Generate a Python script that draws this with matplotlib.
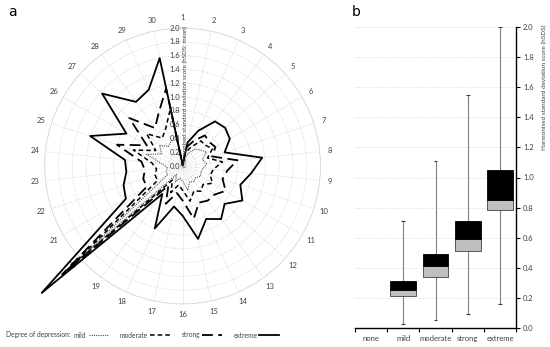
import numpy as np
import matplotlib
matplotlib.use("Agg")
import matplotlib.pyplot as plt
from matplotlib.lines import Line2D
from matplotlib.transforms import offset_copy

plt.rcParams['font.family'] = ['Lato', 'DejaVu Sans']

# --- panel a: radar, hSDS mean per item (1..30) ---
items = [str(i) for i in range(1, 31)]
mild = [0.02, 0.12, 0.20, 0.30, 0.35, 0.40, 0.30, 0.35, 0.30, 0.28,
        0.30, 0.25, 0.28, 0.25, 0.36, 0.22, 0.18, 0.25, 0.15, 2.05,
        0.25, 0.25, 0.22, 0.30, 0.55, 0.35, 0.45, 0.35, 0.40, 0.45]
moderate = [0.02, 0.20, 0.30, 0.45, 0.45, 0.50, 0.38, 0.58, 0.45, 0.42,
            0.50, 0.40, 0.45, 0.40, 0.52, 0.35, 0.28, 0.42, 0.25, 2.25,
            0.42, 0.42, 0.38, 0.45, 0.75, 0.45, 0.70, 0.50, 0.60, 0.85]
strong = [0.02, 0.28, 0.40, 0.55, 0.52, 0.55, 0.45, 0.80, 0.65, 0.61,
          0.72, 0.62, 0.62, 0.58, 0.78, 0.50, 0.40, 0.60, 0.35, 2.35,
          0.60, 0.60, 0.55, 0.60, 1.00, 0.60, 1.04, 0.68, 0.85, 1.15]
extreme = [0.02, 0.35, 0.56, 0.80, 0.83, 0.79, 0.64, 1.16, 1.00, 0.88,
           1.00, 0.82, 0.95, 0.84, 1.08, 0.72, 0.60, 0.99, 0.50, 2.75,
           0.95, 0.90, 0.82, 0.84, 1.41, 0.94, 1.57, 1.15, 1.21, 1.60]
r_ticks = [0.0, 0.2, 0.4, 0.6, 0.8, 1.0, 1.2, 1.4, 1.6, 1.8, 2.0]

# --- panel b: box summary per degree ---
degrees = ['none', 'mild', 'moderate', 'strong', 'extreme']
low = [np.nan, 0.03, 0.056, 0.096, 0.162]
q1 = [np.nan, 0.216, 0.34, 0.513, 0.782]
med = [np.nan, 0.256, 0.416, 0.589, 0.849]
q3 = [np.nan, 0.316, 0.496, 0.711, 1.051]
high = [np.nan, 0.71, 1.107, 1.547, 2.0]

txt = '#404040'
grid_c = '#d0d0d0'

fig = plt.figure(figsize=(5.5, 3.47), dpi=100)

# radar
ax = fig.add_axes([0.081, 0.124, 0.502, 0.795], projection='polar')
ax.set_theta_zero_location('N')
ax.set_theta_direction(-1)
theta = np.arange(len(items)) * 2 * np.pi / len(items)
th = np.append(theta, theta[0])

styles = [
    (mild, dict(color='#505050', lw=0.8, linestyle=(0, (1, 1)))),
    (moderate, dict(color='black', lw=1.1, linestyle=(0, (3, 2)))),
    (strong, dict(color='black', lw=1.3, linestyle=(0, (6, 3)))),
    (extreme, dict(color='black', lw=1.3, linestyle='-')),
]
for vals, st in styles:
    ax.plot(th, np.append(vals, vals[0]), clip_on=False, zorder=3, **st)

ax.set_ylim(0, 2.0)
ax.set_yticks(r_ticks)
ax.set_yticklabels([])
ax.set_xticks(theta)
ax.set_xticklabels(items, fontsize=5.5, color=txt)
ax.tick_params(axis='x', pad=-3)
ax.grid(True, color=grid_c, lw=0.6, linestyle=(0, (1, 1.5)))
ax.spines['polar'].set_color(grid_c)
ax.spines['polar'].set_linewidth(0.6)
ax.spines['polar'].set_linestyle((0, (1, 1.5)))

tr = offset_copy(ax.transData, fig=fig, x=-2, y=0, units='points')
for r in r_ticks:
    ax.text(0, r, f'{r:.1f}', transform=tr, ha='right', va='center',
            fontsize=5.5, color=txt, zorder=4)
fig.text(185 / 550, 1 - 167 / 347, 'Harmonised standard deviation score (hSDS; mean)',
         rotation=90, ha='center', va='bottom', fontsize=4.5, color=txt)

# legend
fig.text(6 / 550, 1 - 335 / 347, 'Degree of depression:', fontsize=4.8, color=txt,
         va='center')
handles = [Line2D([], [], **st) for _, st in styles]
fig.legend(handles, ['mild', 'moderate', 'strong', 'extreme'], ncol=4,
           loc='center left', bbox_to_anchor=(74 / 550, 1 - 335 / 347),
           frameon=False, markerfirst=False, fontsize=4.8, labelcolor=txt,
           handlelength=3.0, handletextpad=0.3, columnspacing=1.7,
           borderpad=0, borderaxespad=0)

fig.text(8 / 550, 1 - 12 / 347, 'a', fontsize=10, va='center', family='DejaVu Sans')
fig.text(352 / 550, 1 - 12 / 347, 'b', fontsize=10, va='center', family='DejaVu Sans')

# box panel
bx = fig.add_axes([355 / 550, 1 - 328.3 / 347, 161 / 550, 301.6 / 347])
x = np.arange(len(degrees))
q1a, meda, q3a = np.array(q1), np.array(med), np.array(q3)
lowa, higha = np.array(low), np.array(high)
bx.vlines(x, lowa, higha, color='#808080', lw=0.8, zorder=2)
bx.hlines(lowa, x - 0.06, x + 0.06, color='#404040', lw=0.8, zorder=2)
bx.hlines(higha, x - 0.06, x + 0.06, color='#404040', lw=0.8, zorder=2)
bx.bar(x, meda - q1a, bottom=q1a, width=0.8, color='#bfbfbf',
       edgecolor='#404040', lw=0.6, zorder=3)
bx.bar(x, q3a - meda, bottom=meda, width=0.8, color='black',
       edgecolor='black', lw=0.6, zorder=3)

bx.set_xlim(-0.5, len(degrees) - 0.5)
bx.set_ylim(0, 2.0)
bx.set_yticks(r_ticks)
bx.set_yticklabels([f'{v:.1f}' for v in r_ticks])
bx.yaxis.tick_right()
bx.yaxis.set_label_position('right')
bx.tick_params(axis='y', direction='out', length=3, width=0.8, labelsize=5.5,
               labelcolor=txt, pad=2)
bx.set_xticks(x)
bx.set_xticklabels(degrees)
bx.set_xticks(np.arange(len(degrees) + 1) - 0.5, minor=True)
bx.tick_params(axis='x', which='major', length=0, labelsize=5.5,
               labelcolor=txt, pad=5)
bx.tick_params(axis='x', which='minor', direction='out', length=3, width=0.8)
bx.grid(axis='y', color='#dddddd', lw=0.6, linestyle=(0, (2, 2)))
bx.set_axisbelow(True)
for s in ['left', 'top']:
    bx.spines[s].set_visible(False)
bx.spines['right'].set_linewidth(1.0)
bx.spines['bottom'].set_linewidth(1.0)
bx.set_ylabel('Harmonised standard deviation score (hSDS)', fontsize=4.6,
              color=txt, rotation=90)
bx.yaxis.set_label_coords(1.0 + 25.7 / 161, 0.8)

fig.savefig('out.png', dpi=100)
